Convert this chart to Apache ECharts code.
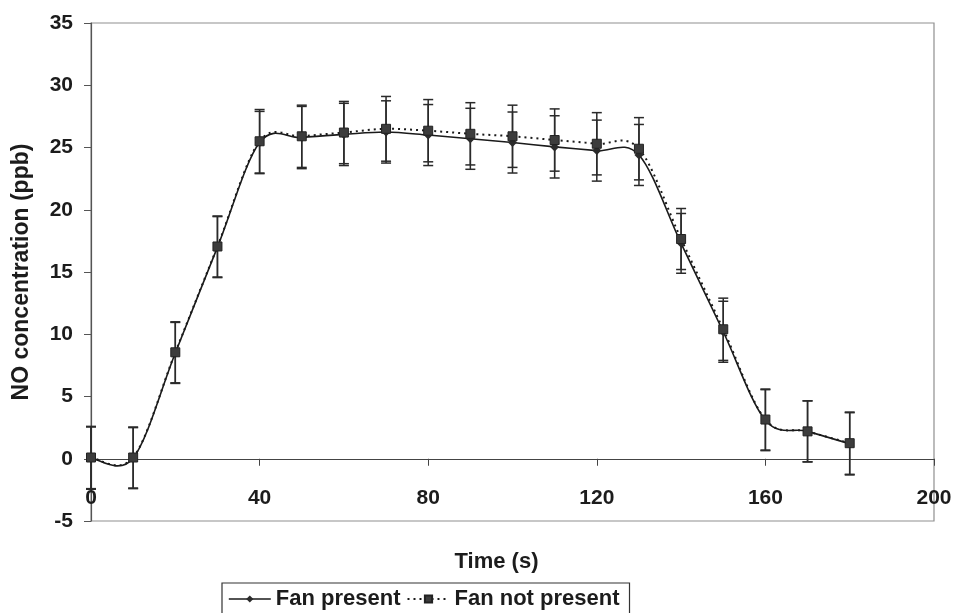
<!DOCTYPE html>
<html>
<head>
<meta charset="utf-8">
<script src="https://cdn.jsdelivr.net/npm/echarts@6/dist/echarts.min.js"></script>
<style>
  html, body { margin: 0; padding: 0; background: #fff; }
  #chart { width: 954px; height: 613px; }
</style>
</head>
<body>
<div id="chart"></div>
<script>
// Sampling times (s)
const times = [0, 10, 20, 30, 40, 50, 60, 70, 80, 90, 100, 110, 120, 130, 140, 150, 160, 170, 180];
// Mean NO concentration (ppb)
const fanPresent    = [0.05, 0.05, 8.5, 17.0, 25.4, 25.8, 26.05, 26.25, 26.0, 25.7, 25.4, 25.05, 24.75, 24.4, 17.3, 10.2, 3.1, 2.2, 1.2];
const fanNotPresent = [0.1, 0.1, 8.55, 17.05, 25.5, 25.9, 26.2, 26.5, 26.35, 26.1, 25.9, 25.6, 25.3, 24.9, 17.65, 10.4, 3.15, 2.2, 1.25];
// Error bar half-widths (ppb)
const fanPresentErr    = [2.5, 2.45, 2.45, 2.45, 2.5, 2.5, 2.5, 2.5, 2.45, 2.45, 2.45, 2.5, 2.45, 2.45, 2.4, 2.45, 2.45, 2.45, 2.5];
const fanNotPresentErr = [2.5, 2.45, 2.45, 2.45, 2.55, 2.5, 2.5, 2.6, 2.5, 2.5, 2.5, 2.5, 2.5, 2.5, 2.45, 2.5, 2.45, 2.45, 2.5];
// Axis ticks
const xTicks = { min: 0, max: 200, step: 40 };
const yTicks = { min: -5, max: 35, step: 5 };

const FONT = '"Liberation Sans", Arial, sans-serif';
const INK = '#1c1c1c';
const LINE = '#1a1a1a';

// Vertical error bars with caps
function errorBarSeries(name, values, errs) {
  return {
    type: 'custom',
    name: name + ' error',
    z: 1,
    silent: true,
    encode: { x: 0, y: 1 },
    data: times.map((t, i) => [t, values[i], errs[i]]),
    renderItem: function (params, api) {
      const x = api.value(0), y = api.value(1), e = api.value(2);
      const top = api.coord([x, y + e]);
      const bot = api.coord([x, y - e]);
      const half = 5;
      const style = { stroke: '#2a2a2a', lineWidth: 1.5 };
      return {
        type: 'group',
        children: [
          { type: 'line', shape: { x1: top[0], y1: top[1], x2: bot[0], y2: bot[1] }, style: style },
          { type: 'line', shape: { x1: top[0] - half, y1: top[1], x2: top[0] + half, y2: top[1] }, style: style },
          { type: 'line', shape: { x1: bot[0] - half, y1: bot[1], x2: bot[0] + half, y2: bot[1] }, style: style }
        ]
      };
    }
  };
}

// Smoothed connecting curve (cardinal spline, one bezier segment per interval)
function curveSeries(name, values, lineDash, width) {
  const n = times.length;
  return {
    type: 'custom',
    name: name + ' curve',
    z: 2,
    silent: true,
    encode: { x: [0, 2], y: [1, 3] },
    data: times.slice(0, -1).map((t, i) => [t, values[i], times[i + 1], values[i + 1]]),
    renderItem: function (params, api) {
      const i = params.dataIndex;
      const at = k => {
        const j = Math.max(0, Math.min(n - 1, k));
        return api.coord([times[j], values[j]]);
      };
      const p0 = at(i - 1);
      const p1 = api.coord([api.value(0), api.value(1)]);
      const p2 = api.coord([api.value(2), api.value(3)]);
      const p3 = at(i + 2);
      return {
        type: 'bezierCurve',
        shape: {
          x1: p1[0], y1: p1[1], x2: p2[0], y2: p2[1],
          cpx1: p1[0] + (p2[0] - p0[0]) / 6, cpy1: p1[1] + (p2[1] - p0[1]) / 6,
          cpx2: p2[0] - (p3[0] - p1[0]) / 6, cpy2: p2[1] - (p3[1] - p1[1]) / 6
        },
        style: { stroke: LINE, lineWidth: width, fill: null, lineDash: lineDash }
      };
    }
  };
}

const chart = echarts.init(document.getElementById('chart'), null, { renderer: 'canvas' });
chart.setOption({
  backgroundColor: '#fff',
  animation: false,
  textStyle: { fontFamily: FONT, color: INK },
  grid: {
    left: 91, right: 20, top: 23, bottom: 92,
    outerBoundsMode: 'none',
    containLabel: false,
    show: true, borderColor: '#8f8f8f', borderWidth: 1.2
  },
  legend: {
    data: [
      { name: 'Fan present', lineStyle: { color: LINE, width: 1.6, type: 'solid', opacity: 1 } },
      { name: 'Fan not present', lineStyle: { color: LINE, width: 2, type: [2, 4], opacity: 1 } }
    ],
    left: 222, top: 583,
    itemWidth: 42, itemHeight: 9, itemGap: 6,
    borderColor: '#333', borderWidth: 1.2,
    padding: [5, 10, 8, 6],
    textStyle: { fontFamily: FONT, fontSize: 22, fontWeight: 'bold', color: INK }
  },
  xAxis: {
    type: 'value',
    min: xTicks.min, max: xTicks.max, interval: xTicks.step,
    name: 'Time (s)', nameLocation: 'middle', nameGap: 30,
    nameTextStyle: { fontFamily: FONT, fontSize: 22, color: INK, fontWeight: 'bold', padding: [0, 32, 0, 0] },
    axisLine: { onZero: true, lineStyle: { color: '#444', width: 1.2 } },
    axisTick: { show: true, length: 7, lineStyle: { color: '#444' } },
    axisLabel: { margin: -33, fontFamily: FONT, fontSize: 21, fontWeight: 'bold', color: INK },
    splitLine: { show: false }
  },
  yAxis: {
    type: 'value',
    min: yTicks.min, max: yTicks.max, interval: yTicks.step,
    name: 'NO concentration (ppb)', nameLocation: 'middle', nameGap: 58,
    nameTextStyle: { fontFamily: FONT, fontSize: 23, fontWeight: 'bold', color: INK },
    axisLine: { show: true, lineStyle: { color: '#555', width: 1.2 } },
    axisTick: { show: true, length: 7, lineStyle: { color: '#555' } },
    axisLabel: { margin: 18, fontFamily: FONT, fontSize: 21, fontWeight: 'bold', color: INK },
    splitLine: { show: false }
  },
  series: [
    errorBarSeries('Fan present', fanPresent, fanPresentErr),
    errorBarSeries('Fan not present', fanNotPresent, fanNotPresentErr),
    curveSeries('Fan present', fanPresent, null, 1.6),
    curveSeries('Fan not present', fanNotPresent, [2, 4], 2),
    {
      name: 'Fan present',
      type: 'line',
      z: 3,
      data: times.map((t, i) => [t, fanPresent[i]]),
      symbol: 'diamond', symbolSize: 9,
      itemStyle: { color: '#2b2b2b' },
      lineStyle: { color: LINE, width: 1.6, opacity: 0 }
    },
    {
      name: 'Fan not present',
      type: 'line',
      z: 4,
      data: times.map((t, i) => [t, fanNotPresent[i]]),
      symbol: 'rect', symbolSize: 9,
      itemStyle: { color: '#3c3c3c', borderColor: '#222', borderWidth: 1 },
      lineStyle: { color: LINE, width: 2, type: [2, 4], opacity: 0 }
    }
  ]
});
</script>
</body>
</html>
